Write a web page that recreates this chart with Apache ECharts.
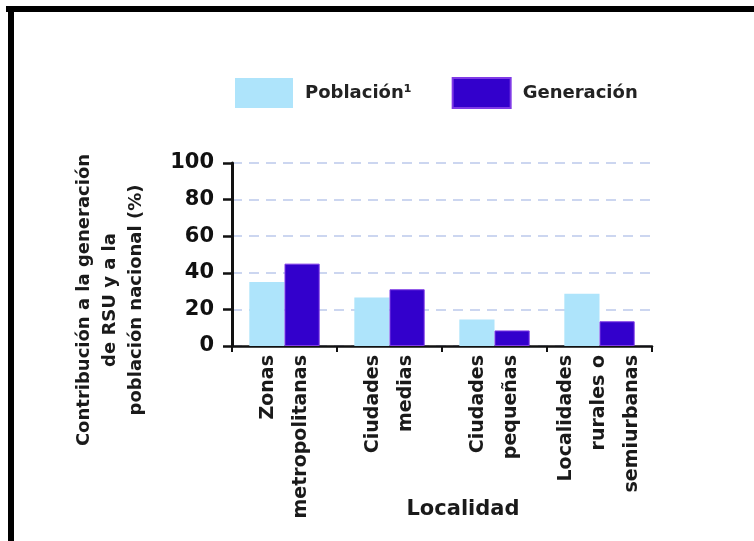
<!DOCTYPE html>
<html>
<head>
<meta charset="utf-8">
<script src="https://cdn.jsdelivr.net/npm/echarts@6/dist/echarts.min.js"></script>
<style>
html,body{margin:0;padding:0;background:#fff;}
#c{width:754px;height:541px;}
</style>
</head>
<body>
<div id="c"></div>
<script>
const categories = ['Zonas\nmetropolitanas', 'Ciudades\nmedias', 'Ciudades\npequeñas', 'Localidades\nrurales o\nsemiurbanas'];
const poblacion = [35, 26.5, 14.5, 28.5];
const generacion = [45, 31, 8.5, 13.5];
const seriesNames = ['Población¹', 'Generación'];
const yTicks = [0, 20, 40, 60, 80, 100];
const yTitle = 'Contribución a la generación\nde RSU y a la\npoblación nacional (%)';
const xTitle = 'Localidad';

const FONT = '"DejaVu Sans", sans-serif';
const chart = echarts.init(document.getElementById('c'), null, {renderer: 'canvas'});
chart.setOption({
  backgroundColor: '#fff',
  animation: false,
  legend: {
    left: 235, top: 77, padding: 0,
    itemWidth: 58, itemHeight: 30, itemGap: 40,
    icon: 'rect',
    textStyle: {fontFamily: FONT, fontWeight: 'bold', fontSize: 18, color: '#222', padding: [0, 0, 0, 7]},
    data: seriesNames
  },
  grid: {left: 232, right: 102, top: 163, bottom: 195, containLabel: false},
  xAxis: {
    type: 'category',
    data: categories,
    axisLine: {lineStyle: {color: '#111', width: 2.5}},
    axisTick: {show: true, length: 6, lineStyle: {color: '#111', width: 2}},
    axisLabel: {
      rotate: 90, interval: 0, margin: 9,
      fontFamily: FONT, fontWeight: 'bold', fontSize: 19, lineHeight: 33, color: '#1a1a1a',
      padding: [0, 0, 5, 0]
    },
    splitLine: {show: false}
  },
  yAxis: {
    type: 'value', min: yTicks[0], max: yTicks[yTicks.length - 1], interval: 20,
    axisLine: {show: true, lineStyle: {color: '#111', width: 3}},
    axisTick: {show: true, length: 9, lineStyle: {color: '#111', width: 2.5}},
    axisLabel: {fontFamily: FONT, fontWeight: 'bold', fontSize: 21, color: '#111', margin: 18},
    splitLine: {show: true, lineStyle: {color: '#ccd6f0', width: 2, type: [10, 7]}}
  },
  series: [
    {name: seriesNames[0], type: 'bar', data: poblacion, barGap: '0%', barCategoryGap: '33%',
     itemStyle: {color: '#aee4fb'}},
    {name: seriesNames[1], type: 'bar', data: generacion,
     itemStyle: {color: '#3300cc', borderColor: '#7f3ae6', borderWidth: 1}}
  ],
  graphic: [
    {type: 'rect', shape: {x: 6, y: 6, width: 748, height: 6}, style: {fill: '#000'}, z: 100},
    {type: 'rect', shape: {x: 8, y: 6, width: 6, height: 535}, style: {fill: '#000'}, z: 100},
    {type: 'text', x: 110, y: 300, rotation: Math.PI / 2,
     style: {text: yTitle, fontFamily: FONT, fontWeight: 'bold', fontSize: 18, lineHeight: 26,
             fill: '#1a1a1a', align: 'center', verticalAlign: 'middle'}},
    {type: 'text', x: 463, y: 510,
     style: {text: xTitle, fontFamily: FONT, fontWeight: 'bold', fontSize: 21,
             fill: '#1a1a1a', align: 'center', verticalAlign: 'middle'}}
  ]
});
</script>
</body>
</html>
